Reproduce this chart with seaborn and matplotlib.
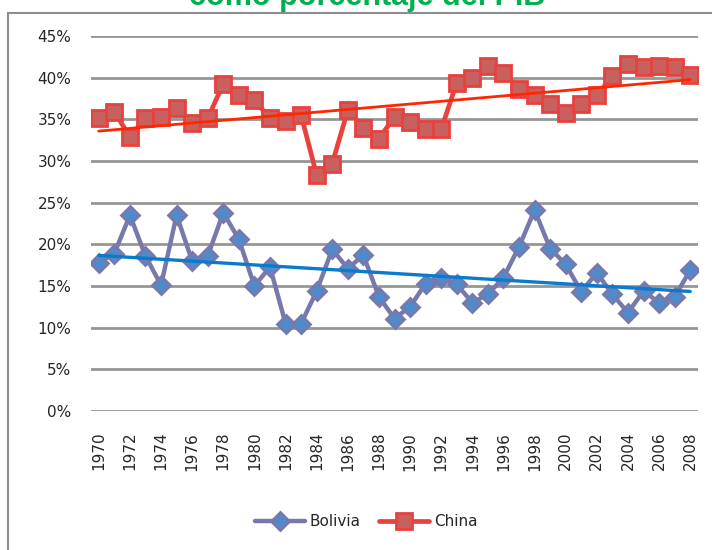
import numpy as np
import pandas as pd
import seaborn as sns
import matplotlib.pyplot as plt
from matplotlib.patches import Rectangle

# Datos (porcentaje del PIB)
anios = list(range(1970, 2009))
bolivia = [17.8, 18.9, 23.5, 18.6, 15.1, 23.5, 18.0, 18.6, 23.8, 20.6,
           15.0, 17.3, 10.5, 10.5, 14.4, 19.4, 17.1, 18.7, 13.7, 11.1,
           12.5, 15.3, 16.0, 15.2, 13.0, 14.0, 16.0, 19.7, 24.1, 19.5,
           17.6, 14.3, 16.6, 14.0, 11.8, 14.4, 13.0, 13.7, 16.9]
china = [35.2, 35.9, 32.9, 35.1, 35.3, 36.4, 34.6, 35.1, 39.3, 37.9,
         37.3, 35.1, 34.8, 35.5, 28.3, 29.7, 36.1, 34.0, 32.7, 35.3,
         34.7, 33.8, 33.8, 39.4, 40.0, 41.4, 40.6, 38.7, 37.9, 36.9,
         35.8, 36.8, 37.9, 40.2, 41.6, 41.3, 41.4, 41.3, 40.3]
titulo = 'como porcentaje del PIB'

df = pd.DataFrame({'anio': anios,
                   'Bolivia': np.array(bolivia) / 100,
                   'China': np.array(china) / 100})

sns.set_style('white')
plt.rcParams['font.family'] = ['DejaVu Sans']

fig = plt.figure(figsize=(7.12, 5.5), dpi=100)
ax = fig.add_axes([91 / 712, 1 - 411 / 550, 607 / 712, 375 / 550])

# series
sns.lineplot(data=df, x='anio', y='Bolivia', ax=ax, color='#7779AD', linewidth=3.2,
             marker='D', markersize=9, markerfacecolor='#4F8BCB',
             markeredgecolor='#7779AD', markeredgewidth=2, label='Bolivia', zorder=3)
sns.lineplot(data=df, x='anio', y='China', ax=ax, color='#E8413E', linewidth=3.4,
             marker='s', markersize=11, markerfacecolor='#C8605D',
             markeredgecolor='#E8413E', markeredgewidth=2, label='China', zorder=3)

# lineas de tendencia
x = np.array(anios)
for col, c, lw in [('Bolivia', '#0A7ACC', 2.4), ('China', '#FF2600', 2.0)]:
    p = np.polyfit(x, df[col], 1)
    ax.plot(x, np.polyval(p, x), color=c, linewidth=lw, zorder=4)

ax.set_xlim(1969.5, 2008.5)
ax.set_ylim(0, 0.45)
ax.set_yticks(np.arange(0, 0.46, 0.05))
ax.set_yticklabels([f'{int(round(v * 100))}%' for v in np.arange(0, 0.46, 0.05)])
ax.set_xticks(range(1970, 2009, 2))
ax.set_xticklabels([str(a) for a in range(1970, 2009, 2)], rotation=90)
ax.tick_params(axis='y', length=0, pad=14, labelsize=11)
ax.tick_params(axis='x', length=0, pad=15, labelsize=11)
ax.set_xlabel('')
ax.set_ylabel('')
ax.yaxis.grid(True, color='#969696', linewidth=2)
ax.xaxis.grid(False)
ax.set_axisbelow(True)
for s in ax.spines.values():
    s.set_visible(False)

ax.legend(loc='center', bbox_to_anchor=(366 / 712, 1 - 522 / 550),
          bbox_transform=fig.transFigure, ncol=2, frameon=False,
          handlelength=3.3, columnspacing=1.2, handletextpad=0.3, fontsize=11)

# marco y titulo (recortado como en el original)
fig.add_artist(Rectangle((8 / 712, -0.1), 1.2, 1.1 - 13 / 550, transform=fig.transFigure,
                         fill=False, edgecolor='#8C8C8C', linewidth=1.5))
fig.text(367 / 712, 1 - 5 / 550, titulo, ha='center', va='baseline', color='#00B050',
         fontsize=22, fontweight='bold', family=['Liberation Sans', 'DejaVu Sans'])

fig.savefig('out.png', dpi=100)
